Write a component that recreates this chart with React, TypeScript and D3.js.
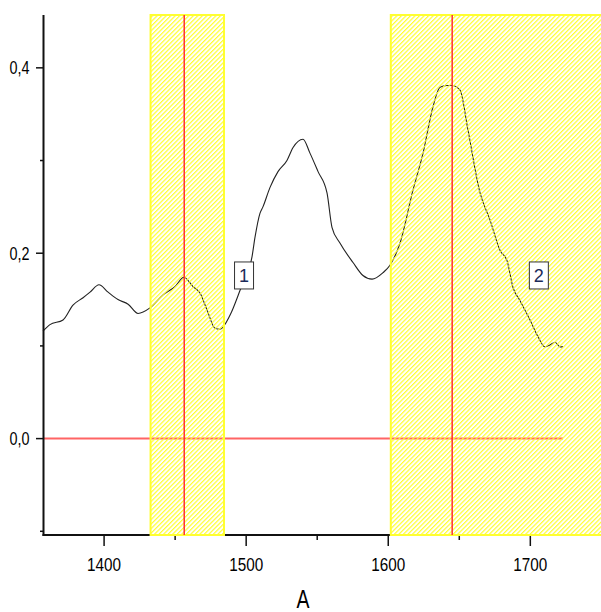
import React, { useEffect, useRef } from "react";
import * as d3 from "d3";

// spectrum: wavenumber / absorbance
const wavenumbers = [
  1357.0, 1361.9, 1371.1, 1378.1, 1385.2, 1390.1, 1396.4, 1402.8, 1409.8, 1416.9,
  1423.9, 1432.3, 1441.5, 1449.9, 1456.2, 1462.6, 1467.5, 1472.4, 1478.1, 1481.6,
  1488.6, 1495.7, 1504.1, 1506.2, 1509.7, 1511.8, 1516.8, 1522.4, 1528.7, 1533.0,
  1540.0, 1544.9, 1550.6, 1556.9, 1560.4, 1566.0, 1575.2, 1582.2, 1588.6, 1596.3,
  1601.2, 1608.3, 1617.4, 1624.5, 1631.5, 1636.4, 1641.3, 1644.9, 1650.5, 1656.1,
  1664.6, 1671.6, 1678.7, 1683.6, 1687.8, 1692.7, 1699.8, 1705.4, 1710.3, 1713.8,
  1717.4, 1720.9, 1723.0,
];
const absorbance = [
  0.116, 0.123, 0.128, 0.144, 0.152, 0.158, 0.166, 0.158, 0.150, 0.145,
  0.135, 0.141, 0.155, 0.164, 0.174, 0.164, 0.157, 0.139, 0.119, 0.118,
  0.133, 0.160, 0.196, 0.217, 0.243, 0.250, 0.271, 0.288, 0.300, 0.314,
  0.323, 0.308, 0.288, 0.265, 0.228, 0.211, 0.190, 0.176, 0.172, 0.179,
  0.187, 0.211, 0.268, 0.308, 0.358, 0.379, 0.381, 0.381, 0.376, 0.333,
  0.265, 0.236, 0.203, 0.192, 0.163, 0.149, 0.128, 0.110, 0.099, 0.101,
  0.104, 0.099, 0.099,
];

// shaded regions and their marker lines
const regionStart = [1432.7, 1601.8];
const regionEnd = [1484.4, 1760];
const regionPeak = [1456.4, 1645.0];
const regionLabels = ["1", "2"];
const labelX = [1498.5, 1706];
const labelY = [0.176, 0.176];

const xTicks = [1400, 1500, 1600, 1700];
const xMinor = [1450, 1550, 1650];
const yTicks = [0.0, 0.2, 0.4];
const yMinor = [-0.1, 0.1, 0.3];
const xTitle = "A";

export default function App() {
  const ref = useRef<SVGSVGElement>(null);

  useEffect(() => {
    const svg = d3.select(ref.current);
    svg.selectAll("*").remove();

    const x = d3.scaleLinear().domain([1357, 1723]).range([43, 563]);
    const y = d3.scaleLinear().domain([-0.104, 0.457]).range([535, 15]);
    const yTop = y(0.457);
    const yBot = y(-0.104);
    const font = "Liberation Sans, Arial, sans-serif";

    // hatch
    const defs = svg.append("defs");
    const pat = defs.append("pattern")
      .attr("id", "hatch")
      .attr("patternUnits", "userSpaceOnUse")
      .attr("width", 3.2)
      .attr("height", 3.2)
      .attr("patternTransform", "rotate(45)");
    pat.append("line")
      .attr("x1", 0.6).attr("y1", 0).attr("x2", 0.6).attr("y2", 3.2)
      .attr("stroke", "#ffff30")
      .attr("stroke-width", 1.2);

    const g = svg.append("g");

    // --- spectrum ---
    const pts = wavenumbers.map((w, i) => [w, absorbance[i]] as [number, number]);
    const line = d3.line<[number, number]>()
      .x(d => x(d[0]))
      .y(d => y(d[1]))
      .curve(d3.curveMonotoneX);
    g.append("path")
      .attr("d", line(pts))
      .attr("fill", "none")
      .attr("stroke", "#222")
      .attr("stroke-width", 1.1);

    // zero line
    g.append("line")
      .attr("x1", x(1357)).attr("x2", x(1723))
      .attr("y1", y(0)).attr("y2", y(0))
      .attr("stroke", "#ff6464")
      .attr("stroke-width", 2);

    // --- axes ---
    g.append("line")
      .attr("x1", 43.5).attr("x2", 43.5)
      .attr("y1", yTop).attr("y2", yBot + 1)
      .attr("stroke", "#111").attr("stroke-width", 2);
    g.append("line")
      .attr("x1", 42.5).attr("x2", x(1723))
      .attr("y1", yBot).attr("y2", yBot)
      .attr("stroke", "#111").attr("stroke-width", 2);

    g.selectAll(".ytick").data(yTicks).join("line")
      .attr("x1", 36).attr("x2", 43)
      .attr("y1", d => y(d)).attr("y2", d => y(d))
      .attr("stroke", "#111").attr("stroke-width", 1.5);
    g.selectAll(".yminor").data(yMinor).join("line")
      .attr("x1", 40).attr("x2", 43)
      .attr("y1", d => y(d)).attr("y2", d => y(d))
      .attr("stroke", "#111").attr("stroke-width", 1.5);
    g.selectAll(".ylab").data(yTicks).join("text")
      .attr("x", 29.5)
      .attr("y", d => y(d) + 6.5)
      .attr("text-anchor", "end")
      .attr("font-family", font)
      .attr("font-size", 19)
      .attr("fill", "#000")
      .attr("textLength", 20)
      .attr("lengthAdjust", "spacingAndGlyphs")
      .text(d => d3.format(".1f")(d).replace(".", ","));

    g.selectAll(".xtick").data(xTicks).join("line")
      .attr("x1", d => x(d)).attr("x2", d => x(d))
      .attr("y1", yBot).attr("y2", yBot + 11)
      .attr("stroke", "#111").attr("stroke-width", 1.5);
    g.selectAll(".xminor").data(xMinor).join("line")
      .attr("x1", d => x(d)).attr("x2", d => x(d))
      .attr("y1", yBot).attr("y2", yBot + 5)
      .attr("stroke", "#111").attr("stroke-width", 1.5);
    g.selectAll(".xlab").data(xTicks).join("text")
      .attr("x", d => x(d) - 17)
      .attr("y", yBot + 35.5)
      .attr("font-family", font)
      .attr("font-size", 19)
      .attr("fill", "#000")
      .attr("textLength", 34)
      .attr("lengthAdjust", "spacingAndGlyphs")
      .text(d => String(d));

    g.append("text")
      .attr("x", 296.5)
      .attr("y", 608)
      .attr("font-family", font)
      .attr("font-size", 25)
      .attr("fill", "#000")
      .attr("textLength", 13)
      .attr("lengthAdjust", "spacingAndGlyphs")
      .text(xTitle);

    // --- hatched regions over everything ---
    regionStart.forEach((s, i) => {
      g.append("rect")
        .attr("x", x(s))
        .attr("y", yTop)
        .attr("width", x(regionEnd[i]) - x(s))
        .attr("height", yBot - yTop)
        .attr("fill", "url(#hatch)")
        .attr("stroke", "#ffff30")
        .attr("stroke-width", 2);
      g.append("line")
        .attr("x1", x(regionPeak[i])).attr("x2", x(regionPeak[i]))
        .attr("y1", yTop).attr("y2", yBot)
        .attr("stroke", "#ff3030")
        .attr("stroke-width", 1.5);
    });

    // --- labels ---
    regionLabels.forEach((t, i) => {
      const cx = x(labelX[i]);
      const cy = y(labelY[i]);
      g.append("rect")
        .attr("x", cx - 9.5).attr("y", cy - 13.5)
        .attr("width", 19).attr("height", 27)
        .attr("fill", "#fff")
        .attr("stroke", "#333")
        .attr("stroke-width", 1);
      g.append("text")
        .attr("x", cx).attr("y", cy + 6.5)
        .attr("text-anchor", "middle")
        .attr("font-family", font)
        .attr("font-size", 18)
        .attr("fill", "#1b2a5a")
        .text(t);
    });
  }, []);

  return (
    <svg
      ref={ref}
      width={601}
      height={612}
      style={{ position: "absolute", left: 0, top: 0, background: "#fff" }}
    />
  );
}
